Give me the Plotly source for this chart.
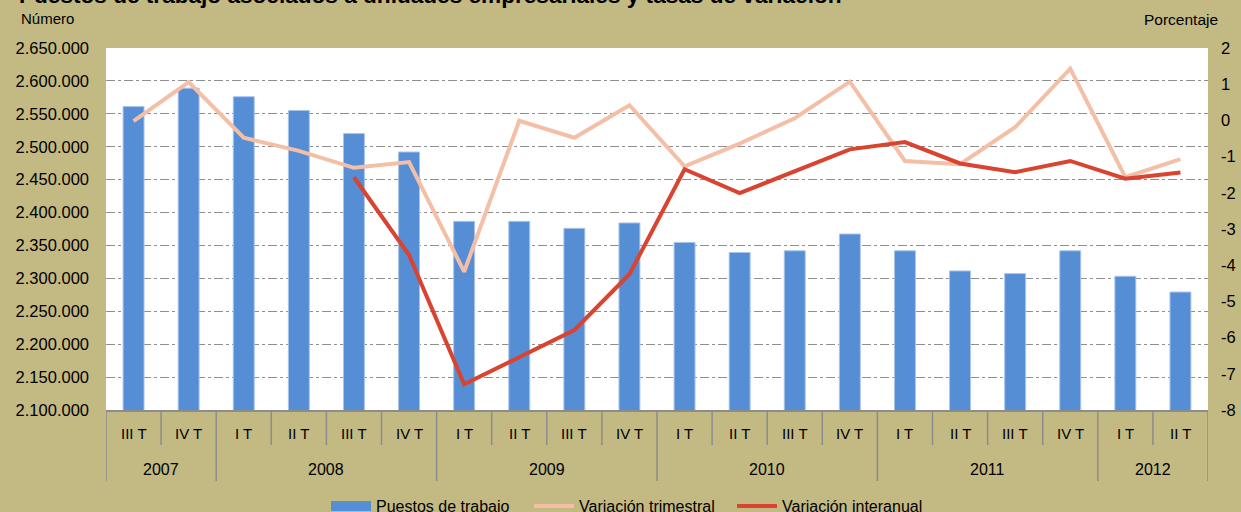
import plotly.graph_objects as go

# ---- data ----
years = ["2007", "2007", "2008", "2008", "2008", "2008", "2009", "2009", "2009", "2009",
         "2010", "2010", "2010", "2010", "2011", "2011", "2011", "2011", "2012", "2012"]
quarters = ["III T", "IV T", "I T", "II T", "III T", "IV T", "I T", "II T", "III T", "IV T",
            "I T", "II T", "III T", "IV T", "I T", "II T", "III T", "IV T", "I T", "II T"]
puestos = [2561000, 2589000, 2576000, 2555000, 2520000, 2492000, 2386600, 2386600, 2376000, 2384200,
           2354600, 2339300, 2341900, 2367400, 2341900, 2311300, 2307200, 2341900, 2303200, 2279200]
var_trimestral = [-0.02, 1.06, -0.48, -0.84, -1.31, -1.15, -4.18, -0.01, -0.48, 0.42,
                  -1.27, -0.64, 0.06, 1.07, -1.12, -1.21, -0.19, 1.43, -1.57, -1.07]
var_interanual = [None, None, None, None, -1.57, -3.72, -7.29, -6.54, -5.79, -4.25,
                  -1.35, -2.01, -1.41, -0.80, -0.60, -1.19, -1.43, -1.12, -1.61, -1.44]
left_ticks = list(range(2100000, 2650001, 50000))
right_ticks = list(range(-8, 3))

BG = "#C3B983"
BLUE = "#558ED5"
FONT = "Liberation Sans, Arial, sans-serif"
W, H = 1241, 512
L, R, T, B = 106, 33, 48, 102
PH = H - T - B
PW = W - L - R


def py(pix):  # page pixel y -> paper y
    return (H - B - pix) / PH


def px(pix):  # page pixel x -> paper x
    return (pix - L) / PW


x = list(range(len(quarters)))

fig = go.Figure()
fig.add_trace(go.Bar(x=x, y=puestos, name="Puestos de trabajo", showlegend=False,
                     marker=dict(color=BLUE, line=dict(color="#A9C4EB", width=1)), yaxis="y"))
# legend entry drawn as a wide block like the original
fig.add_trace(go.Scatter(x=[None], y=[None], name="Puestos de trabajo", mode="lines",
                         line=dict(color=BLUE, width=12), yaxis="y"))
fig.add_trace(go.Scatter(x=x, y=var_trimestral, name="Variación trimestral", mode="lines",
                         line=dict(color="#F4BFA7", width=4), yaxis="y2"))
fig.add_trace(go.Scatter(x=x, y=var_interanual, name="Variación interanual", mode="lines",
                         line=dict(color="#D9432F", width=4), yaxis="y2"))


def fmt(v):
    return f"{v:,}".replace(",", ".")


shapes = []
annotations = []
bounds = [-0.5]
for i in range(1, len(years)):
    if years[i] != years[i - 1]:
        bounds.append(i - 0.5)
bounds.append(len(years) - 0.5)
for i in range(len(years) + 1):
    b = i - 0.5
    long = b in bounds
    shapes.append(dict(type="line", xref="x", yref="paper", x0=b, x1=b, y0=0,
                       y1=py(481) if long else py(445),
                       line=dict(color="#8C8C8C", width=1.5)))
for i, q in enumerate(quarters):
    annotations.append(dict(x=i, y=py(433), xref="x", yref="paper", text=q, showarrow=False,
                            font=dict(family=FONT, size=15, color="#000"), yanchor="middle"))
for a, b in zip(bounds[:-1], bounds[1:]):
    annotations.append(dict(x=(a + b) / 2, y=py(469), xref="x", yref="paper", text=years[int(a + 0.5)],
                            showarrow=False, font=dict(family=FONT, size=16, color="#000"),
                            yanchor="middle"))
annotations.append(dict(x=px(19), y=py(18), xref="paper", yref="paper", text="Número",
                        showarrow=False, xanchor="left", yanchor="middle",
                        font=dict(family=FONT, size=15, color="#000")))
annotations.append(dict(x=px(1220), y=py(19), xref="paper", yref="paper", text="Porcentaje",
                        showarrow=False, xanchor="right", yanchor="middle",
                        font=dict(family=FONT, size=15.5, color="#000")))
annotations.append(dict(x=px(17), y=py(-4.5), xref="paper", yref="paper",
                        text="<b>Puestos de trabajo asociados a unidades empresariales y tasas de variación</b>",
                        showarrow=False, xanchor="left", yanchor="middle",
                        font=dict(family=FONT, size=22.6, color="#000")))

fig.update_layout(
    width=W, height=H, margin=dict(l=L, r=R, t=T, b=B, autoexpand=False),
    paper_bgcolor=BG, plot_bgcolor="#FFFFFF",
    bargap=0.62, shapes=shapes, annotations=annotations,
    showlegend=True,
    xaxis=dict(domain=[0, 1], range=[-0.5, len(x) - 0.5], showticklabels=False, showgrid=False,
               zeroline=False, showline=True, linecolor="#8C8C8C", linewidth=1.5),
    yaxis=dict(range=[2100000, 2650000], tickvals=left_ticks, ticktext=[fmt(v) for v in left_ticks],
               showgrid=True, gridcolor="#8F8F8F", griddash="dashdot", gridwidth=1,
               zeroline=False, showline=False, ticklabelstandoff=16,
               tickfont=dict(family=FONT, size=16.5, color="#000")),
    yaxis2=dict(range=[-8, 2], tickvals=right_ticks, ticktext=[str(v) for v in right_ticks],
                overlaying="y", side="right",
                showgrid=False, zeroline=False, showline=False, ticklabelstandoff=12,
                tickfont=dict(family=FONT, size=16.5, color="#000")),
    legend=dict(orientation="h", x=px(326), xanchor="left", y=py(489), yanchor="top",
                font=dict(family=FONT, size=16, color="#000"), bgcolor="rgba(0,0,0,0)",
                entrywidth=148, entrywidthmode="pixels", itemwidth=40),
)
fig.write_html("out.html", config={"displayModeBar": False},
               post_script="document.body.style.margin='0';document.body.style.overflow='hidden';")
